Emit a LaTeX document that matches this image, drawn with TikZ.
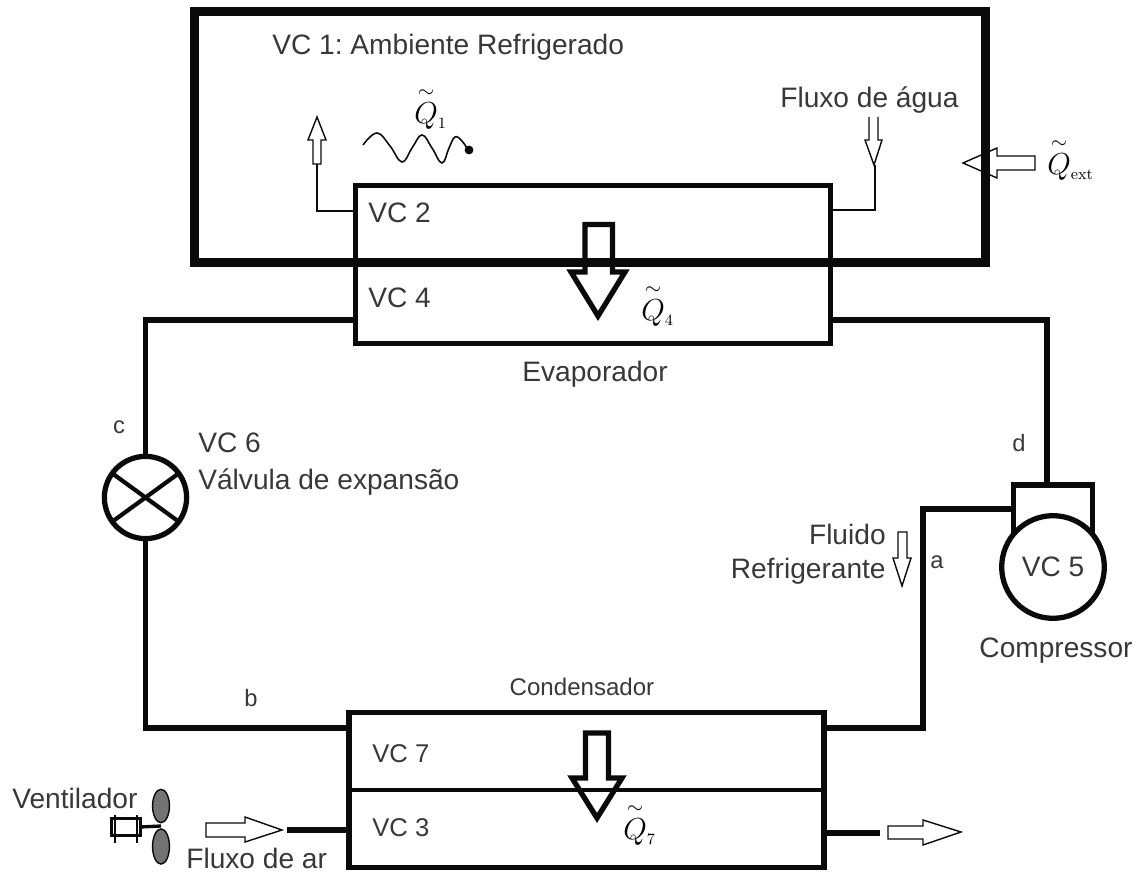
\documentclass[tikz,border=0pt]{standalone}
\usepackage{amsmath}
\usepackage{xcolor}
\usepackage[no-math]{fontspec}
\setmainfont{Liberation Sans}
\frenchspacing
\usepackage{tikz}
\usetikzlibrary{shapes.geometric}
\definecolor{LinhaPreta}{HTML}{0A0A0A}
\definecolor{TextoCinza}{HTML}{383838}
\definecolor{PaCinza}{gray}{0.45}
\newcommand{\CalorQ}[1]{$\overset{\sim}{Q}\vphantom{Q}_{\scriptscriptstyle #1}$}

\begin{document}
\begin{tikzpicture}[
  x=0.2mm,y=-0.2mm,
  font=\fontsize{16}{19.5}\selectfont,
  text=TextoCinza,
  caixa/.style={draw=LinhaPreta,line width=3pt,minimum width=#1,inner sep=0pt,outer sep=0pt},
  tubo/.style={draw=LinhaPreta,line width=3pt},
  tubofino/.style={draw=LinhaPreta,line width=0.9pt},
  setafina/.style={draw=LinhaPreta,line width=0.8pt},
  setagrossa/.style={draw=LinhaPreta,line width=3pt,miter limit=4},
  letra/.style={font=\fontsize{13.5}{16}\selectfont,inner sep=0pt},
  rotulo/.style={anchor=west,inner sep=0pt},
  menor/.style={font=\fontsize{14.6}{18}\selectfont},
  calor/.style={font=\fontsize{18}{20}\selectfont,inner sep=0pt,anchor=west,text=black},
]
  \useasboundingbox (0,0) rectangle (1146,872);

  \node[draw=LinhaPreta,line width=5.1pt,minimum width=450pt,minimum height=142.9pt,inner sep=0pt] (vc1) at (590,137) {};
  \node[caixa=269.9pt,minimum height=90.1pt] (evaporador) at (593,264.5) {};
  \node[caixa=270.4pt,minimum height=88.4pt] (condensador) at (586.5,790) {};
  \draw[tubo,line width=2.5pt] (condensador.west) -- (condensador.east);

  \node[circle,draw=LinhaPreta,line width=3pt,fill=white,minimum size=46.8pt,inner sep=0pt,outer sep=0pt] (valvula) at (145.5,497.5) {};
  \draw[tubo,line width=2.4pt] (valvula.144) -- (valvula.-36);
  \draw[tubo,line width=2.4pt] (valvula.36) -- (valvula.216);
  \node[circle,draw=LinhaPreta,line width=3pt,fill=white,minimum size=58.4pt,inner sep=0pt,outer sep=0pt] (compressor) at (1053,567) {VC 5};
  \draw[tubo] (compressor.140) -- ++(0,-49) -| (compressor.40);

  \coordinate (saidaEvap) at (831,320);
  \coordinate (entradaEvap) at (355,320);
  \coordinate (topoComp) at (1047,485);
  \coordinate (ladoComp) at (1014,509);
  \coordinate (saidaCond) at (825,728);
  \coordinate (entradaCond) at (348,728);
  \draw[tubo] (entradaEvap) -| (valvula.north);
  \draw[tubo] (valvula.south) |- (entradaCond);
  \draw[tubo] (saidaEvap) -| (topoComp);
  \draw[tubo] (saidaCond) -| (923,509) -- (ladoComp);

  \coordinate (aguaSai) at (355,211);
  \coordinate (aguaEntra) at (831,210);
  \coordinate (pontaSobe) at (317,164);
  \coordinate (pontaDesce) at (875,165);
  \draw[tubofino] (aguaSai) -| (pontaSobe);
  \draw[tubofino] (aguaEntra) -| (pontaDesce);
  \coordinate (arEntra) at (287,830);
  \coordinate (arParede) at (348,830);
  \coordinate (arSaiParede) at (825,833);
  \coordinate (arSai) at (880,833);
  \draw[tubo] (arEntra) -- (arParede);
  \draw[tubo] (arSaiParede) -- (arSai);

  \draw[setafina] (313,164) -- (313,140) -- (308,140) -- (317,117) -- (326,140) -- (321,140) -- (321,164) -- cycle;
  \draw[setafina] (869,117) -- (869,140) -- (865,140) -- (874,165) -- (882,140) -- (878,140) -- (878,117);
  \draw[setafina] (1035,156) -- (997,156) -- (997,148) -- (963,163) -- (997,178) -- (997,170) -- (1035,170) -- cycle;
  \draw[setafina] (898,532) -- (898,558) -- (893,558) -- (902,586) -- (911,558) -- (907,558) -- (907,532) -- cycle;
  \draw[setafina] (206,823) -- (245,823) -- (245,817) -- (282,830) -- (245,842) -- (245,837) -- (206,837) -- cycle;
  \draw[setafina] (888,826) -- (923,826) -- (923,820) -- (961,832) -- (923,845) -- (923,839) -- (888,839) -- cycle;

  \draw[setagrossa] (585,272) -- (585,224.5) -- (612.5,224.5) -- (612.5,272) -- (625,272) -- (598,316) -- (571,272) -- cycle;
  \draw[setagrossa] (585.5,778) -- (585.5,733) -- (608.5,733) -- (608.5,778) -- (622,778) -- (597,818) -- (572,778) -- cycle;

  \draw[tubofino] plot[smooth,tension=0.7] coordinates {(363,145) (377,133) (390,146) (402,162) (412,148) (422,135) (432,148) (442,163) (449,148) (455,137) (462,141) (468,150)};
  \node[circle,fill=LinhaPreta,minimum size=5pt,inner sep=0pt] (pontoCalor) at (469,150) {};

  \node[draw=LinhaPreta,line width=1.7pt,minimum width=16pt,minimum height=10pt,inner sep=0pt,outer sep=0pt] (motor) at (126,827) {};
  \node[ellipse,draw=LinhaPreta,fill=PaCinza,line width=0.8pt,minimum width=9.6pt,minimum height=19pt,inner sep=0pt,outer sep=0pt] (paCima) at (161,806) {};
  \node[ellipse,draw=LinhaPreta,fill=PaCinza,line width=0.8pt,minimum width=9.6pt,minimum height=20pt,inner sep=0pt,outer sep=0pt] (paBaixo) at (161,846.5) {};
  \coordinate (eixoFan) at (161,826);
  \draw[tubo,line width=1.9pt] (motor.east) -- (eixoFan);
  \draw[tubo,line width=1.7pt] (115,815) -- (115,843);
  \draw[tubofino] (137,815) -- (137,843);

  \node[rotulo] (txtVc1) at (272,47) {VC 1: Ambiente Refrigerado};
  \node[rotulo] (txtAgua) at (780,100) {Fluxo de água};
  \node[rotulo] (txtVc2) at (368,213) {VC 2};
  \node[rotulo] (txtVc4) at (368,298) {VC 4};
  \node[inner sep=0pt] (txtEvap) at (595,374) {Evaporador};
  \node[rotulo,align=left] (txtVc6) at (198,464) {VC 6\\[2pt]Válvula de expansão};
  \node[inner sep=0pt] (txtComp) at (1056,651) {Compressor};
  \node[inner sep=0pt,font=\fontsize{13.7}{17}\selectfont] (txtCond) at (582,687) {Condensador};
  \node[rotulo,menor] (txtVc7) at (372,754) {VC 7};
  \node[rotulo,menor] (txtVc3) at (372,828) {VC 3};
  \node[rotulo] (txtVent) at (12,798) {Ventilador};
  \node[rotulo] (txtAr) at (186,858) {Fluxo de ar};
  \node[anchor=east,align=right,inner sep=0pt] (txtFluido) at (886,554) {Fluido\\Refrigerante};

  \node[letra] (letraA) at (937,562) {a};
  \node[letra] (letraB) at (251,698) {b};
  \node[letra] (letraC) at (119,427) {c};
  \node[letra] (letraD) at (1019,443) {d};

  \node[calor] (q1) at (414,108) {\CalorQ{1}};
  \node[calor] (q4) at (641,305) {\CalorQ{4}};
  \node[calor] (q7) at (623,824) {\CalorQ{7}};
  \node[calor] (qext) at (1047,159) {\CalorQ{\mathrm{ext}}};
\end{tikzpicture}
\end{document}
